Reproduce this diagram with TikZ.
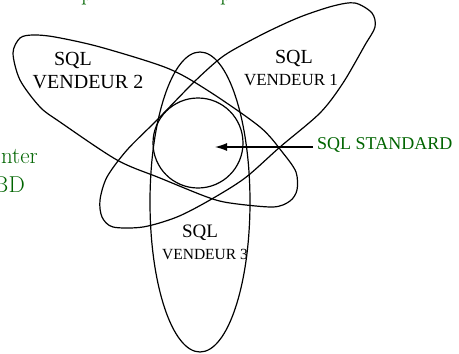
\documentclass[tikz,border=0pt]{standalone}
\usepackage{fontspec}
\newfontfamily\timesfont{Liberation Serif}
\usetikzlibrary{arrows.meta,shapes.geometric}
\definecolor{slidegreen}{RGB}{0,100,0}
\newcommand\pxsize[1]{\fontsize{#1}{#1}\selectfont}
\tikzset{
  lbl/.style={font=\timesfont\pxsize{#1}, inner sep=0pt, anchor=base},
  lbl/.default=20,
  slidetxt/.style={font=\pxsize{23}, text=slidegreen, inner sep=0pt},
  outline/.style={line width=1.2pt, line join=round},
}
\begin{document}
\begin{tikzpicture}[x=1pt,y=-1pt]
\useasboundingbox (0,0) rectangle (459,354);
\clip (0,0) rectangle (459,354);
\node[slidetxt,anchor=base west] (p1) at (81,0) {p};
\node[slidetxt,anchor=base west] (p2) at (220,0) {p};
\node[slidetxt,anchor=base east] (inter) at (38,163) {nter};
\node[slidetxt,anchor=base east] (sgbd) at (25,192) {BD};
\draw[outline] plot[smooth cycle] coordinates {(13,53)(20,38)(33,35)(55,37)(100,47)(167,68)(207,90)(260,127)(283,153)(296,172)(297,190)(290,201)(273,207)(230,203)(207,197)(160,178)(117,160)(60,122)(40,107)(20,80)};
\draw[outline] plot[smooth cycle] coordinates {(355,3)(333,6)(300,17)(267,32)(233,50)(217,61)(193,83)(157,120)(127,150)(107,177)(100,200)(102,217)(113,227)(143,227)(177,217)(210,200)(245,178)(280,147)(320,113)(343,83)(365,45)(375,27)(372,13)};
\node[outline,draw,ellipse,minimum width=100pt,minimum height=300pt] (v3) at (200,202) {};
\node[outline,draw,circle,minimum size=90pt] (std) at (198,143) {};
\node[lbl] (v2sql) at (73,65) {SQL};
\node[lbl] (v2name) at (88,88) {VENDEUR 2};
\node[lbl] (v1sql) at (294,63) {SQL};
\node[lbl=17] (v1name) at (291,85) {VENDEUR 1};
\node[lbl=19] (v3sql) at (200,237) {SQL};
\node[lbl=15.5] (v3name) at (205,259) {VENDEUR 3};
\node[lbl=18,anchor=base west,text=slidegreen,inner sep=4pt] (stdlbl) at (313,149) {SQL STANDARD};
\coordinate (tip) at (215,147);
\draw[line width=1.2pt,-{Latex[length=12pt,width=8pt]}] (stdlbl.west |- tip) -- (tip);
\end{tikzpicture}
\end{document}
